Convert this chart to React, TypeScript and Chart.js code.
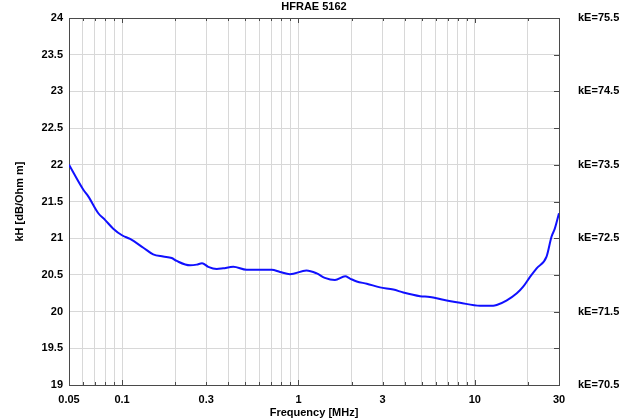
import React, { useEffect, useRef } from "react";
import { Chart, registerables } from "chart.js";

Chart.register(...registerables);

const titleText = "HFRAE 5162";
const xTitle = "Frequency [MHz]";
const yTitle = "kH [dB/Ohm m]";

const freq = [0.05, 0.0603, 0.0643, 0.0733, 0.08, 0.0891, 0.0999, 0.111, 0.132, 0.15, 0.171, 0.191, 0.204, 0.243, 0.265, 0.284, 0.308, 0.344, 0.374, 0.427, 0.508, 0.579, 0.705, 0.786, 0.895, 1.11, 1.27, 1.41, 1.61, 1.84, 1.96, 2.14, 2.44, 2.9, 3.45, 3.93, 4.89, 5.56, 6.62, 8.24, 10.7, 12.7, 13.3, 15.1, 17.3, 18.8, 20.5, 22.4, 25.5, 27.2, 28.4, 30];
const kH = [22.0, 21.66, 21.57, 21.34, 21.25, 21.13, 21.04, 20.99, 20.87, 20.78, 20.75, 20.73, 20.69, 20.63, 20.64, 20.66, 20.61, 20.58, 20.59, 20.61, 20.57, 20.57, 20.57, 20.54, 20.51, 20.56, 20.52, 20.46, 20.43, 20.48, 20.45, 20.41, 20.38, 20.33, 20.3, 20.26, 20.21, 20.2, 20.16, 20.12, 20.08, 20.08, 20.09, 20.15, 20.25, 20.34, 20.47, 20.59, 20.75, 21.02, 21.13, 21.34];

const xTicks = [0.05, 0.06, 0.07, 0.08, 0.09, 0.1, 0.2, 0.3, 0.4, 0.5, 0.6, 0.7, 0.8, 0.9, 1, 2, 3, 4, 5, 6, 7, 8, 9, 10, 20, 30];
const xLabels = [0.05, 0.1, 0.3, 1, 3, 10, 30];
const xMajor = [0.1, 1, 10];
const kEOffset = 51.5;

const FONT = "'Liberation Sans', Arial, sans-serif";

const frame = {
  id: "frame",
  afterDraw(chart: any) {
    const { ctx, chartArea } = chart;
    const xs = chart.scales.x;
    const y2 = chart.scales.y2;
    ctx.save();
    ctx.strokeStyle = "#4a4a4a";
    ctx.lineWidth = 1;
    ctx.beginPath();
    ctx.moveTo(chartArea.left, chartArea.top + 0.5);
    ctx.lineTo(chartArea.right, chartArea.top + 0.5);
    for (const v of xTicks) {
      const px = Math.round(xs.getPixelForValue(v)) + 0.5;
      const len = xMajor.includes(v) ? 5 : 3;
      ctx.moveTo(px, chartArea.top);
      ctx.lineTo(px, chartArea.top + len);
      ctx.moveTo(px, chartArea.bottom);
      ctx.lineTo(px, chartArea.bottom - len);
    }
    for (const t of y2.ticks) {
      const py = Math.round(y2.getPixelForValue(t.value)) + 0.5;
      ctx.moveTo(chartArea.right, py);
      ctx.lineTo(chartArea.right - 5, py);
    }
    ctx.stroke();
    ctx.restore();
  },
};

const fitY = (w: number) => (s: any) => {
  s.width = w;
  s.paddingTop = 0;
  s.paddingBottom = 0;
};

export default function App() {
  const ref = useRef<HTMLCanvasElement | null>(null);
  useEffect(() => {
    if (!ref.current) return;
    const chart = new Chart(ref.current, {
      type: "line",
      data: {
        datasets: [
          {
            data: freq.map((f, i) => ({ x: f, y: kH[i] })),
            borderColor: "#1010ff",
            borderWidth: 2,
            pointRadius: 0,
            tension: 0.3,
            cubicInterpolationMode: "monotone",
            fill: false,
          },
        ],
      },
      options: {
        responsive: false,
        animation: false,
        layout: { padding: 0 },
        plugins: {
          legend: { display: false },
          tooltip: { enabled: false },
          title: {
            display: true,
            text: titleText,
            color: "#000",
            fullSize: false,
            font: { family: FONT, size: 11, weight: "bold", lineHeight: 1.2 },
            padding: { top: 0, bottom: 4.8 },
          },
        },
        scales: {
          x: {
            type: "logarithmic",
            position: "bottom",
            min: 0.05,
            max: 30,
            afterBuildTicks: (s: any) => {
              s.ticks = xTicks.map((v) => ({ value: v }));
            },
            afterFit: (s: any) => {
              s.height = 35;
            },
            ticks: {
              autoSkip: false,
              maxRotation: 0,
              padding: 8,
              color: "#000",
              font: { family: FONT, size: 11, weight: "bold" },
              callback: (v: any) => (xLabels.includes(Number(v)) ? String(v) : ""),
            },
            grid: { color: "#d8d8d8", lineWidth: 1, drawTicks: false },
            border: { display: true, color: "#4a4a4a", width: 1 },
            title: {
              display: true,
              text: xTitle,
              color: "#000",
              font: { family: FONT, size: 11, weight: "bold", lineHeight: 1.2 },
              padding: { top: 0, bottom: 0 },
            },
          },
          y: {
            type: "linear",
            position: "left",
            min: 19,
            max: 24,
            afterFit: fitY(69),
            ticks: {
              stepSize: 0.5,
              padding: 6,
              color: "#000",
              font: { family: FONT, size: 11, weight: "bold" },
              callback: (v: any) => String(Number(v)),
            },
            grid: { color: "#d8d8d8", lineWidth: 1, drawTicks: false },
            border: { display: true, color: "#4a4a4a", width: 1 },
            title: {
              display: true,
              text: yTitle,
              color: "#000",
              font: { family: FONT, size: 11, weight: "bold", lineHeight: 1.2 },
              padding: { top: 13, bottom: 0 },
            },
          },
          y2: {
            type: "linear",
            position: "right",
            min: 19,
            max: 24,
            afterFit: fitY(81),
            ticks: {
              stepSize: 0.5,
              padding: 19,
              color: "#000",
              font: { family: FONT, size: 11, weight: "bold" },
              callback: (v: any) =>
                Number.isInteger(Number(v)) ? "kE=" + (Number(v) + kEOffset).toFixed(1) : "",
            },
            grid: { drawOnChartArea: false, drawTicks: false },
            border: { display: true, color: "#4a4a4a", width: 1 },
          },
        },
      },
      plugins: [frame],
    } as any);
    return () => chart.destroy();
  }, []);
  return (
    <div style={{ position: "absolute", left: 0, top: 0, width: 640, height: 420, background: "#fff" }}>
      <canvas ref={ref} width={640} height={420} />
    </div>
  );
}
